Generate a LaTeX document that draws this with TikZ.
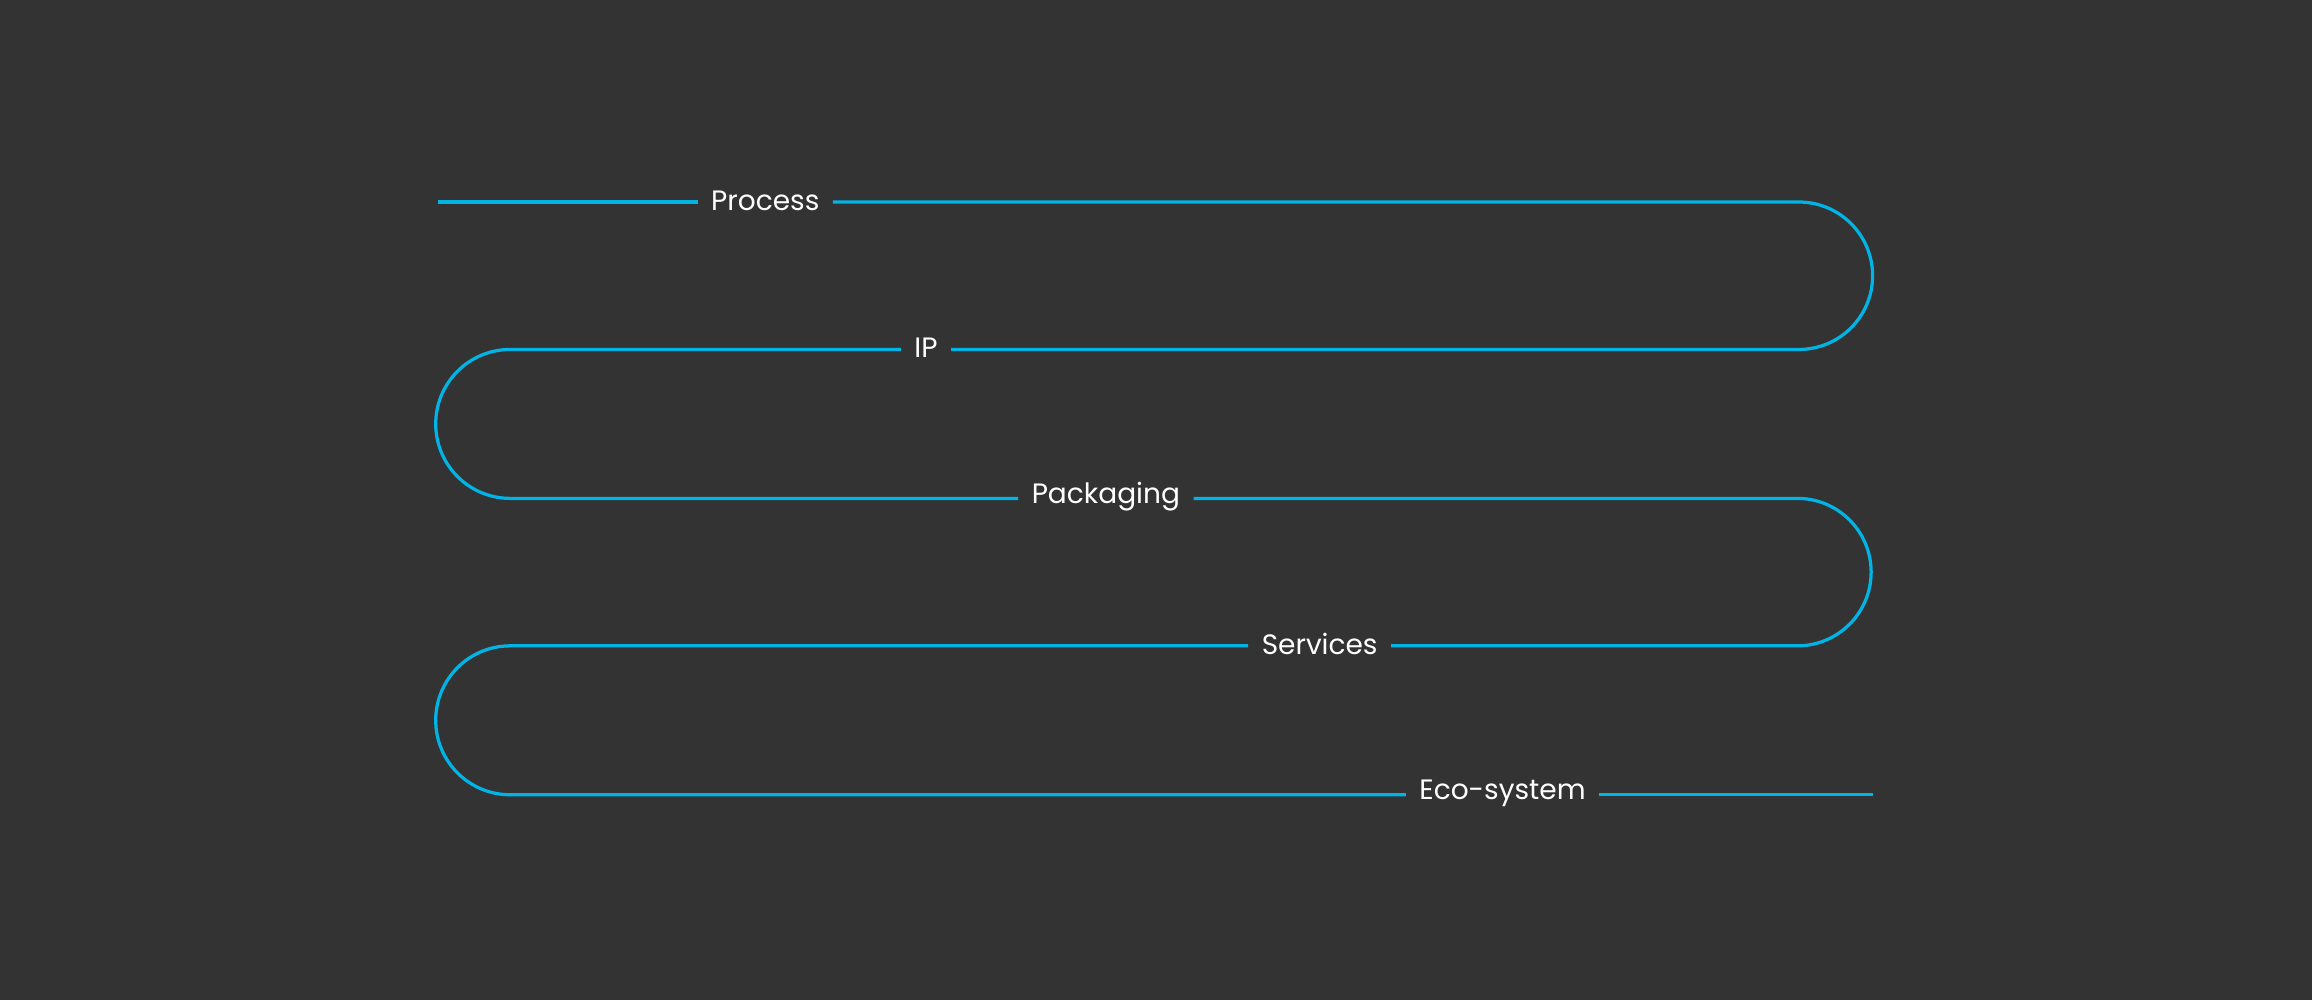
\documentclass[tikz,border=0pt]{standalone}
\usepackage{fontspec}
\setmainfont{Poppins}
\definecolor{bg}{HTML}{333333}
\definecolor{ln}{HTML}{00B4E6}
\begin{document}
\begin{tikzpicture}[x=1pt,y=-1pt,
  lbl/.style={text=white,font=\fontsize{19}{22}\selectfont,inner xsep=9pt,inner ysep=2pt},
  wire/.style={draw=ln,line width=2.2pt}]
\fill[bg] (0,0) rectangle (1568,678);
\useasboundingbox (0,0) rectangle (1568,678);
\node[lbl] (p) at (519,136) {Process};
\node[lbl] (ip) at (628,236) {IP};
\node[lbl] (pk) at (750,337) {Packaging};
\node[lbl] (sv) at (895,437) {Services};
\node[lbl] (ec) at (1019,538) {Eco-system};
\coordinate (s) at (297,137);
\coordinate (e) at (1270,539);
\draw[wire] (s) -- (p.west |- 0,137);
\draw[wire] (p.east |- 0,137) -- (1220,137) arc[start angle=-90,end angle=90,radius=50] -- (ip.east |- 0,237);
\draw[wire] (ip.west |- 0,237) -- (346,237) arc[start angle=-90,end angle=-270,radius=50.5] -- (pk.west |- 0,338);
\draw[wire] (pk.east |- 0,338) -- (1219,338) arc[start angle=-90,end angle=90,radius=50] -- (sv.east |- 0,438);
\draw[wire] (sv.west |- 0,438) -- (346,438) arc[start angle=-90,end angle=-270,radius=50.5] -- (ec.west |- 0,539);
\draw[wire] (ec.east |- 0,539) -- (e);
\end{tikzpicture}
\end{document}
